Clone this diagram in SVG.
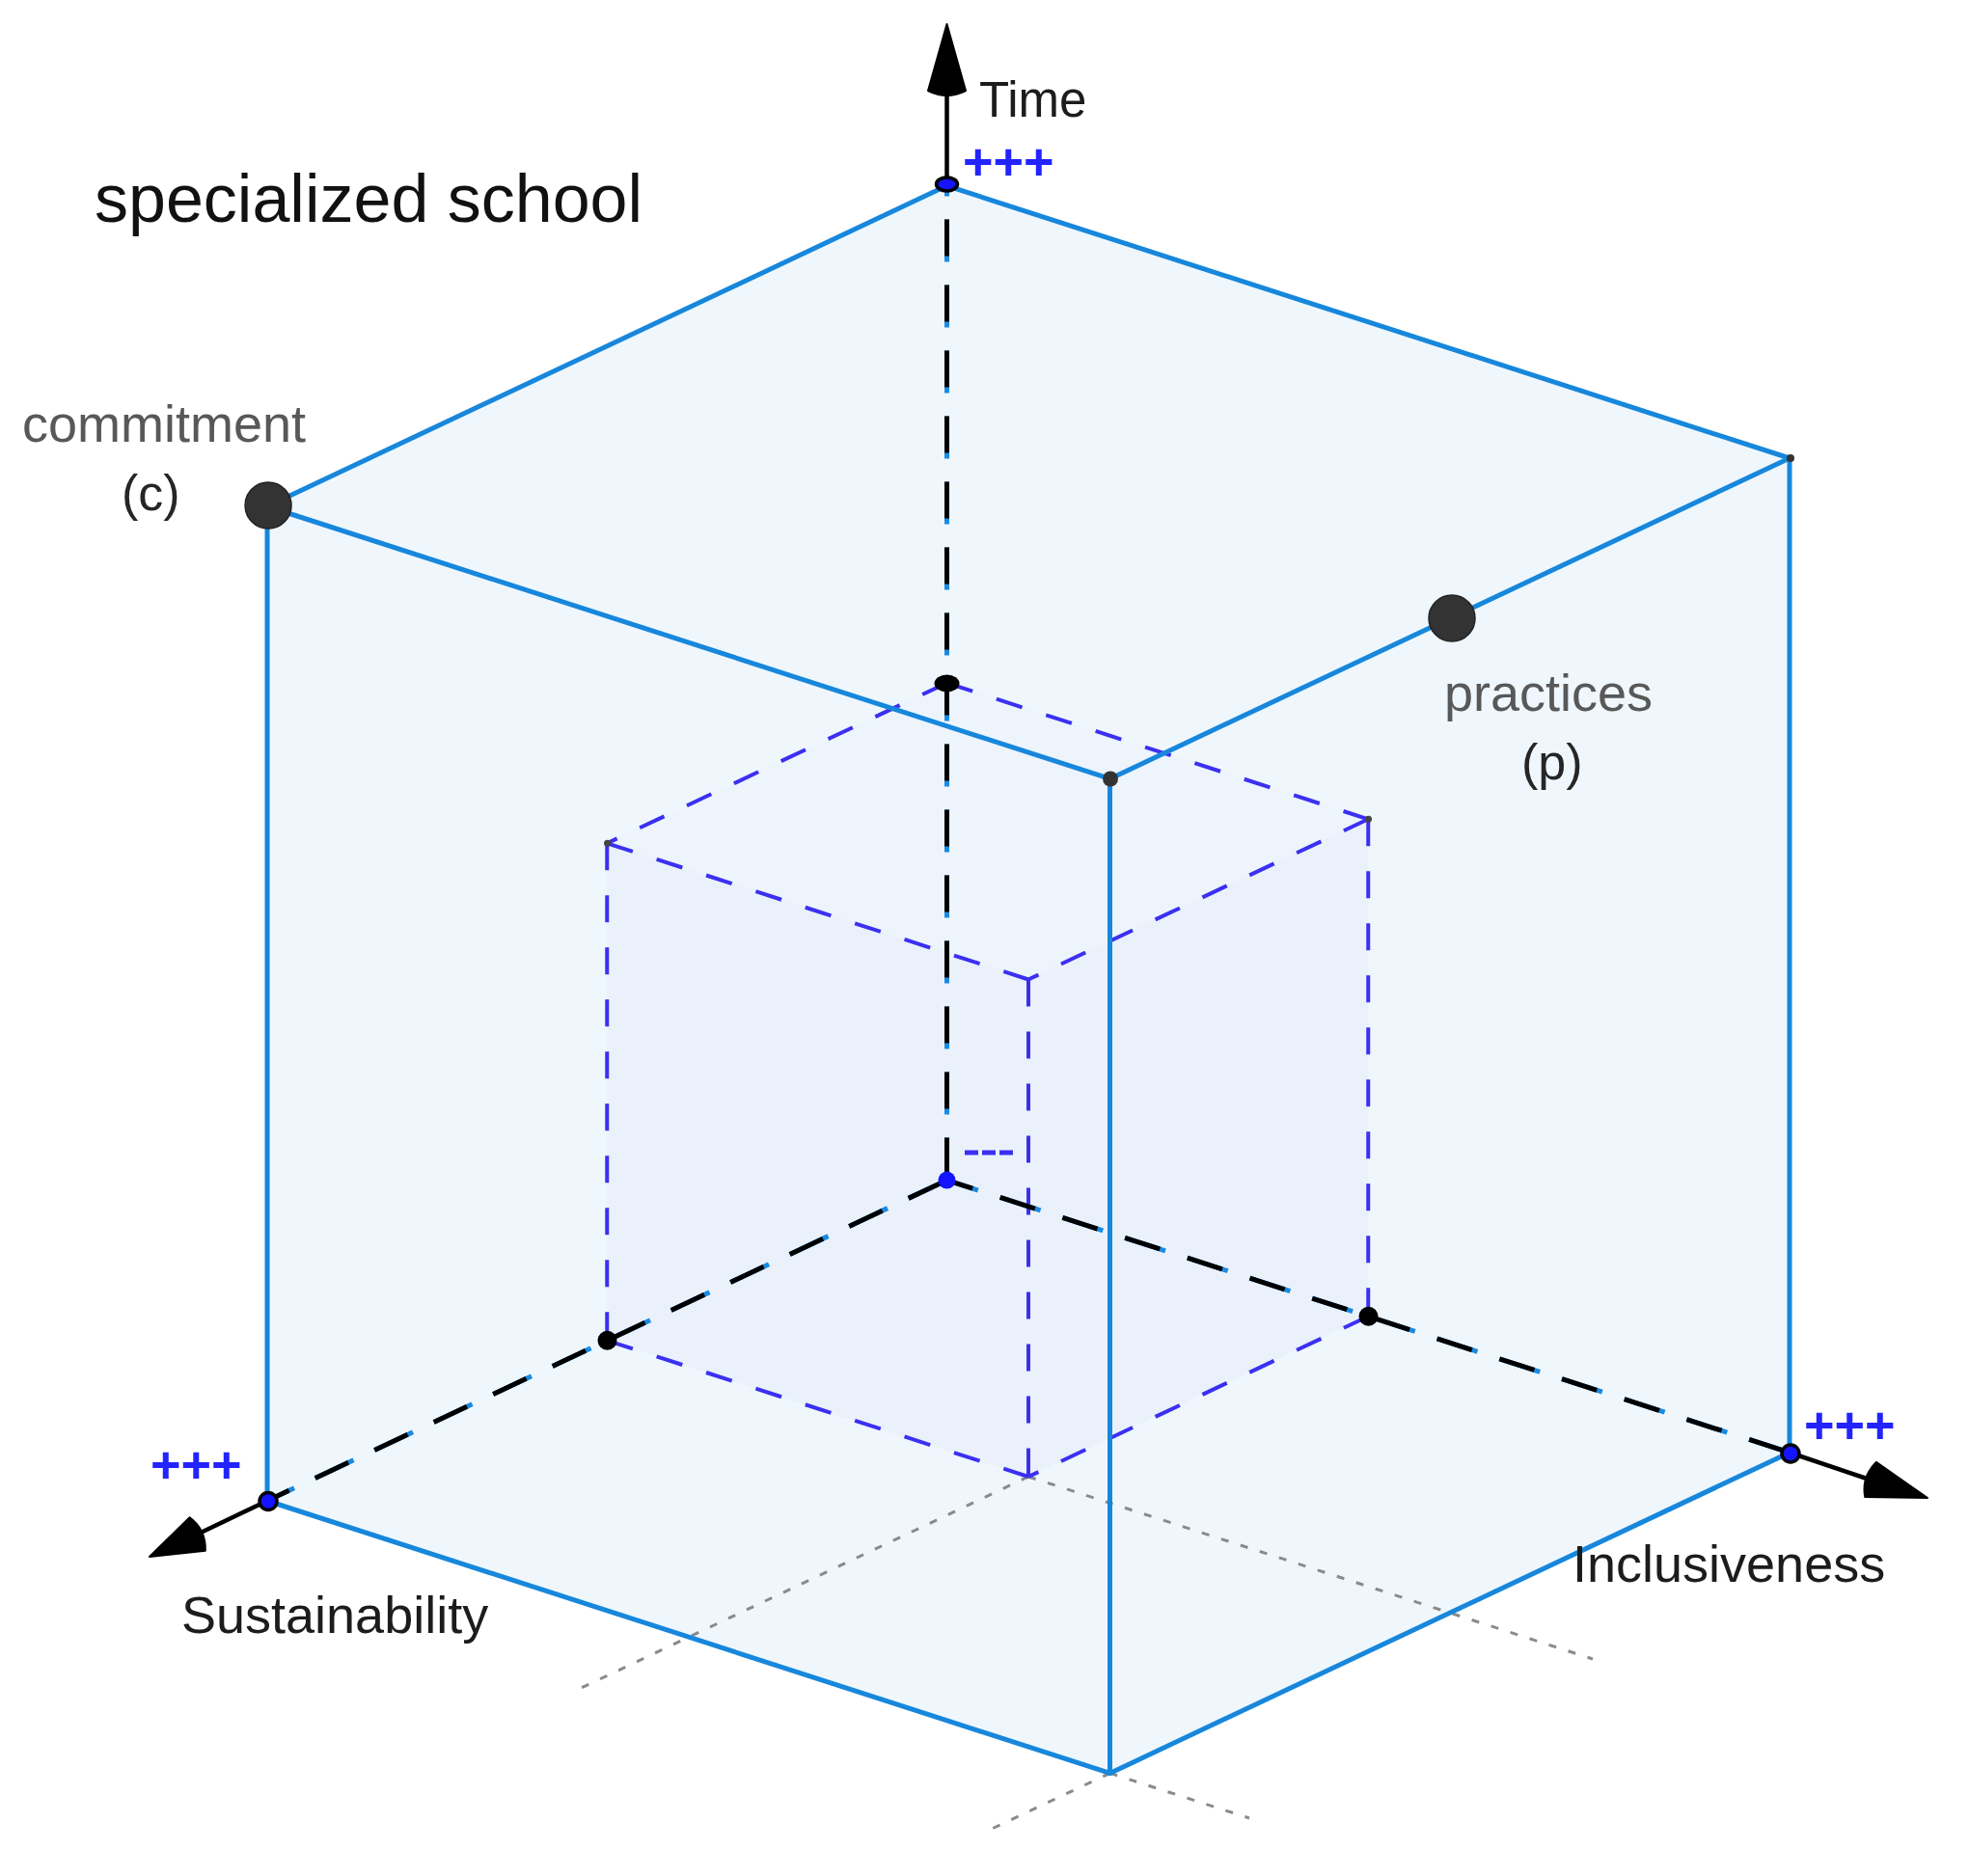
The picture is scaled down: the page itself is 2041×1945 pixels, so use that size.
<svg xmlns="http://www.w3.org/2000/svg" width="2041" height="1945" viewBox="0 0 2041 1945">
  <style>
    .lbl { font-family: "Liberation Sans", Arial, Helvetica, sans-serif; }
    .axis-label { font-size: 54px; fill: #1c1c1c; }
    .soft-label { font-size: 54px; fill: #585858; }
    .paren { font-size: 52px; fill: #262626; }
    .plus { font-size: 54px; fill: #2323ff; font-weight: bold; }
    .edge { fill: none; stroke: #1787dc; stroke-width: 5; stroke-linecap: round; stroke-linejoin: round; }
    .inner { fill: none; stroke: #3b30f0; stroke-width: 4; stroke-dasharray: 28 26; }
    .axis-blue { fill: none; stroke: #1a8ae0; stroke-width: 5; stroke-dasharray: 44 24; }
    .axis-black { fill: none; stroke: #000; stroke-width: 5; stroke-dasharray: 38 30; stroke-dashoffset: -6; }
    .arrow-line { fill: none; stroke: #000; stroke-width: 4.5; }
    .arrowhead { fill: #000; stroke: #000; stroke-width: 2; stroke-linejoin: round; }
    .grid { fill: none; stroke: #8a8a8a; stroke-width: 3; stroke-dasharray: 8 13; }
    .bigdot { fill: #333; stroke: #222; stroke-width: 1.5; }
    .bluedot { fill: #1414ff; stroke: #000; stroke-width: 3.5; }
    .blackdot { fill: #000; }
  </style>

  <rect width="2041" height="1945" fill="#fff"/>

  <!-- cube faces -->
  <g id="cube-fill">
    <polygon points="277,525 981.5,192.6 1855,475 1855,1506 1150.5,1838.4 277,1556" fill="#eff7fd"/>
    <polygon points="629.25,874.3 981.5,708.1 1418.25,849.3 1418.25,1364.8 1066,1531 629.25,1389.8" fill="#eaf1fb"/>
    <polygon points="629.25,874.3 981.5,708.1 1418.25,849.3 1066,1015.5" fill="#edf4fc"/>
  </g>

  <g id="connectors">
    <!-- grey construction lines -->
    <g id="grid-lines">
      <line class="grid" x1="1066" y1="1531" x2="594" y2="1754"/>
      <line class="grid" x1="1066" y1="1531" x2="1651" y2="1720"/>
      <line class="grid" x1="1150.5" y1="1838.4" x2="1024" y2="1898"/>
      <line class="grid" x1="1150.5" y1="1838.4" x2="1295" y2="1885"/>
    </g>

    <!-- inner cube (dashed) -->
    <g id="inner-cube-edges">
      <line class="inner" x1="981.5" y1="708.1" x2="629.25" y2="874.3"/>
      <line class="inner" x1="981.5" y1="708.1" x2="1418.25" y2="849.3"/>
      <line class="inner" x1="629.25" y1="874.3" x2="1066" y2="1015.5"/>
      <line class="inner" x1="1418.25" y1="849.3" x2="1066" y2="1015.5"/>
      <line class="inner" x1="629.25" y1="874.3" x2="629.25" y2="1389.8"/>
      <line class="inner" x1="1418.25" y1="849.3" x2="1418.25" y2="1364.8"/>
      <line class="inner" x1="1066" y1="1015.5" x2="1066" y2="1531"/>
      <line class="inner" x1="629.25" y1="1389.8" x2="1066" y2="1531"/>
      <line class="inner" x1="1418.25" y1="1364.8" x2="1066" y2="1531"/>
      <line class="inner" x1="1000" y1="1195" x2="1052" y2="1195" style="stroke-width:5;stroke-dasharray:14 4"/>
    </g>

    <!-- outer cube visible edges -->
    <g id="outer-cube-edges">
      <line class="edge" x1="981.5" y1="192.6" x2="277" y2="525"/>
      <line class="edge" x1="981.5" y1="192.6" x2="1855" y2="475"/>
      <line class="edge" x1="277" y1="525" x2="1150.5" y2="807.4"/>
      <line class="edge" x1="1855" y1="475" x2="1150.5" y2="807.4"/>
      <line class="edge" x1="277" y1="525" x2="277" y2="1556"/>
      <line class="edge" x1="1855" y1="475" x2="1855" y2="1506"/>
      <line class="edge" x1="1150.5" y1="807.4" x2="1150.5" y2="1838.4"/>
      <line class="edge" x1="277" y1="1556" x2="1150.5" y2="1838.4"/>
      <line class="edge" x1="1855" y1="1506" x2="1150.5" y2="1838.4"/>
    </g>

    <!-- axes (hidden part dashed) -->
    <g id="axes">
      <line class="axis-blue" x1="981.5" y1="1223.6" x2="981.5" y2="192.6"/>
      <line class="axis-black" x1="981.5" y1="1223.6" x2="981.5" y2="192.6"/>
      <line class="axis-blue" x1="981.5" y1="1223.6" x2="277" y2="1556"/>
      <line class="axis-black" x1="981.5" y1="1223.6" x2="277" y2="1556"/>
      <line class="axis-blue" x1="1855" y1="1506" x2="981.5" y2="1223.6"/>
      <line class="axis-black" x1="1855" y1="1506" x2="981.5" y2="1223.6"/>

      <line class="arrow-line" x1="981.5" y1="192.6" x2="981.5" y2="96"/>
      <path class="arrowhead" d="M981.5,25 L962,94 Q981.5,104 1001,94 Z"/>

      <line class="arrow-line" x1="277" y1="1556" x2="206" y2="1590"/>
      <path class="arrowhead" d="M155,1614 L212.8,1607.7 Q213.7,1586.2 196.6,1573.3 Z"/>

      <line class="arrow-line" x1="1855" y1="1506" x2="1938" y2="1534"/>
      <path class="arrowhead" d="M1998,1553 L1933.2,1552.1 Q1929.5,1531 1944.8,1515.9 Z"/>
    </g>
  </g>

  <!-- points -->
  <g id="node-origin"><circle cx="981.5" cy="1223.6" r="9" fill="#1414ff"/></g>
  <g id="node-time-max"><ellipse class="bluedot" cx="981.5" cy="191" rx="11" ry="7"/></g>
  <g id="node-sustainability-max"><circle class="bluedot" cx="278" cy="1556.5" r="9"/></g>
  <g id="node-inclusiveness-max"><circle class="bluedot" cx="1856" cy="1507" r="9"/></g>
  <g id="node-inner-time"><ellipse class="blackdot" cx="981.5" cy="708.5" rx="13" ry="9"/></g>
  <g id="node-inner-sustainability"><circle class="blackdot" cx="629.5" cy="1389.8" r="10"/></g>
  <g id="node-inner-inclusiveness"><circle class="blackdot" cx="1418.5" cy="1364.8" r="10"/></g>
  <g id="node-inner-left"><circle fill="#444" cx="629.5" cy="874.3" r="3.5"/></g>
  <g id="node-inner-right"><circle fill="#444" cx="1418.5" cy="849.3" r="3.5"/></g>
  <g id="node-front-top"><circle fill="#333" cx="1151" cy="807.5" r="8"/></g>
  <g id="node-right-top"><circle fill="#333" cx="1856" cy="475" r="4"/></g>

  <g id="node-commitment">
    <circle class="bigdot" cx="278" cy="524" r="24"/>
    <text class="lbl soft-label" x="23" y="458">commitment</text>
    <text class="lbl paren" x="126" y="529">(c)</text>
  </g>

  <g id="node-practices">
    <circle class="bigdot" cx="1505" cy="641" r="24"/>
    <text class="lbl soft-label" x="1497" y="737">practices</text>
    <text class="lbl paren" x="1577" y="808">(p)</text>
  </g>

  <g id="labels">
    <text class="lbl" x="98" y="230" font-size="70" fill="#111">specialized school</text>
    <text class="lbl axis-label" x="1015" y="121" style="font-size:51px">Time</text>
    <text class="lbl axis-label" x="188" y="1693">Sustainability</text>
    <text class="lbl axis-label" x="1630" y="1640">Inclusiveness</text>
    <text class="lbl plus" x="998" y="186">+++</text>
    <text class="lbl plus" x="156" y="1537">+++</text>
    <text class="lbl plus" x="1870" y="1496">+++</text>
  </g>
</svg>
